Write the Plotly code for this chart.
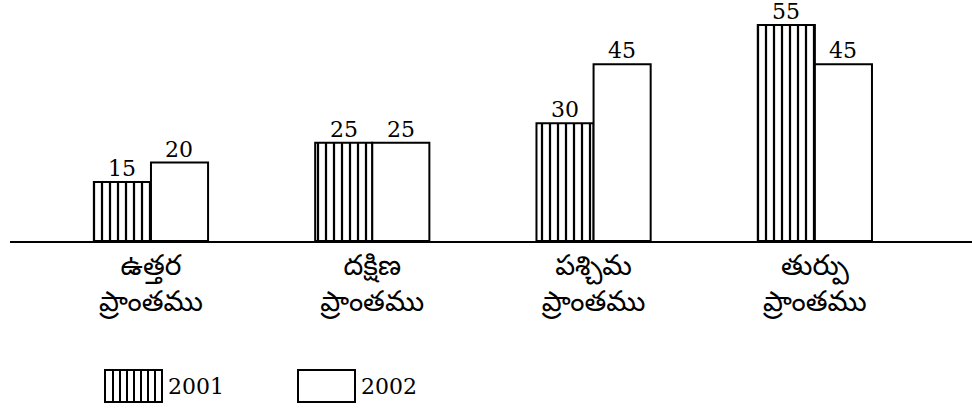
import plotly.graph_objects as go

region_line1 = ["ఉత్తర", "దక్షిణ", "పశ్చిమ", "తుర్పు"]
region_line2 = ["ప్రాంతము", "ప్రాంతము", "ప్రాంతము", "ప్రాంతము"]
regions = [a + " " + b for a, b in zip(region_line1, region_line2)]
years = ["2001", "2002"]
values_2001 = [15, 25, 30, 55]
values_2002 = [20, 25, 45, 45]

W, H = 972, 408
ML, MR, MT, MB = 10, 0, 0, 167
PW, PH = W - ML - MR, H - MT - MB

def px(x):
    return (x - ML) / PW

def py(y):
    return (H - MB - y) / PH

NUMFONT = dict(family="DejaVu Serif", size=22, color="black")
TELFONT = dict(family="Noto Sans Telugu, Noto Sans, sans-serif", size=28, color="black")
XRANGE = [-0.637, 3.71]
BAR_HALF = 28.5  # pixel offset of each bar centre from its group centre

ticktext = ["<span style='font-size:28px'>%s<br>%s</span>" % (a, b)
            for a, b in zip(region_line1, region_line2)]

fig = go.Figure()
fig.add_trace(go.Bar(
    x=regions, y=values_2001, name=years[0],
    marker=dict(color="white", line=dict(color="black", width=2),
                pattern=dict(shape="|", fgcolor="black", bgcolor="white", fgopacity=1,
                             size=8, solidity=0.28)),
))
fig.add_trace(go.Bar(
    x=regions, y=values_2002, name=years[1],
    marker=dict(color="white", line=dict(color="black", width=2)),
))

shapes = []
annotations = []
# value labels above the bars
for vals, shift in ((values_2001, -BAR_HALF), (values_2002, BAR_HALF)):
    for cat, v in zip(regions, vals):
        annotations.append(dict(x=cat, y=v, xref="x", yref="y", text=str(v),
                                showarrow=False, xanchor="center", yanchor="bottom",
                                xshift=shift, yshift=-1, font=NUMFONT))

# custom legend drawn below the chart
legend_items = [(105, years[0], True), (298, years[1], False)]
for x0, label, striped in legend_items:
    x1 = x0 + 57
    y0, y1 = 370, 402
    shapes.append(dict(type="rect", xref="paper", yref="paper",
                       x0=px(x0), x1=px(x1), y0=py(y1), y1=py(y0),
                       line=dict(color="black", width=2), fillcolor="white"))
    if striped:
        sx = x0 + 8
        while sx < x1 - 2:
            shapes.append(dict(type="line", xref="paper", yref="paper",
                               x0=px(sx), x1=px(sx), y0=py(y1), y1=py(y0),
                               line=dict(color="black", width=2)))
            sx += 7
    annotations.append(dict(text=label, xref="paper", yref="paper",
                            x=px(x1 + 4), y=py(386), xanchor="left", yanchor="middle",
                            showarrow=False, font=NUMFONT))

fig.update_layout(
    width=W, height=H,
    margin=dict(l=ML, r=MR, t=MT, b=MB),
    paper_bgcolor="white", plot_bgcolor="white",
    barmode="group", bargap=0.484, bargroupgap=0,
    showlegend=False,
    shapes=shapes, annotations=annotations,
    xaxis=dict(range=XRANGE, showline=True, linecolor="black", linewidth=2,
               showgrid=False, zeroline=False, ticks="", tickfont=TELFONT,
               tickvals=regions, ticktext=ticktext, ticklabelstandoff=-2),
    yaxis=dict(range=[0, 61.4], visible=False, showgrid=False, zeroline=False),
)

fig.write_html("out.html", config={"displayModeBar": False},
               post_script="document.body.style.margin='0';")
